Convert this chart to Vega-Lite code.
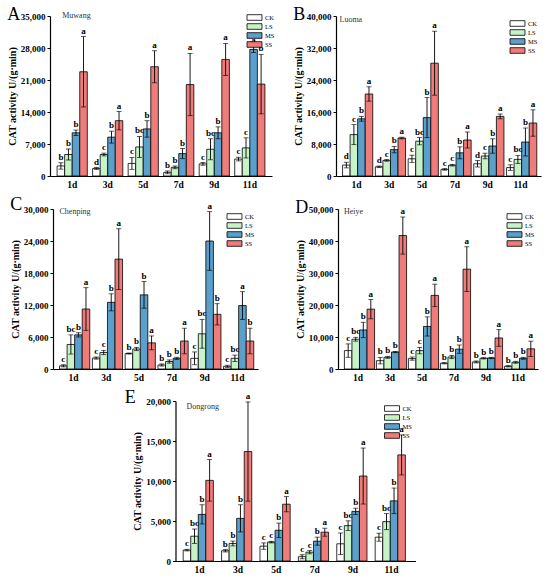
{
  "$schema": "https://vega.github.io/schema/vega-lite/v6.json",
  "padding": {"left": 7, "top": 6, "right": 2, "bottom": 2},
  "datasets": {
    "A": [
      {"d":"1d","g":"CK","v":2200,"lo":1500,"hi":2900,"l":"b"},
      {"d":"1d","g":"LS","v":4700,"lo":3500,"hi":5900,"l":"b"},
      {"d":"1d","g":"MS","v":9450,"lo":8850,"hi":10050,"l":"b"},
      {"d":"1d","g":"SS","v":22800,"lo":15100,"hi":30500,"l":"a"},
      {"d":"3d","g":"CK","v":1650,"lo":1450,"hi":1850,"l":"d"},
      {"d":"3d","g":"LS","v":4700,"lo":4400,"hi":5000,"l":"c"},
      {"d":"3d","g":"MS","v":8500,"lo":7200,"hi":9800,"l":"b"},
      {"d":"3d","g":"SS","v":12100,"lo":10100,"hi":14100,"l":"a"},
      {"d":"5d","g":"CK","v":2750,"lo":1450,"hi":4050,"l":"c"},
      {"d":"5d","g":"LS","v":6350,"lo":4050,"hi":8650,"l":"bc"},
      {"d":"5d","g":"MS","v":10300,"lo":8500,"hi":12100,"l":"b"},
      {"d":"5d","g":"SS","v":23900,"lo":20400,"hi":27400,"l":"a"},
      {"d":"7d","g":"CK","v":800,"lo":500,"hi":1100,"l":"b"},
      {"d":"7d","g":"LS","v":1900,"lo":1600,"hi":2200,"l":"b"},
      {"d":"7d","g":"MS","v":4900,"lo":3800,"hi":6000,"l":"b"},
      {"d":"7d","g":"SS","v":20000,"lo":13200,"hi":26800,"l":"a"},
      {"d":"9d","g":"CK","v":2650,"lo":2350,"hi":2950,"l":"c"},
      {"d":"9d","g":"LS","v":5850,"lo":3550,"hi":8150,"l":"bc"},
      {"d":"9d","g":"MS","v":9450,"lo":8150,"hi":10750,"l":"b"},
      {"d":"9d","g":"SS","v":25500,"lo":22000,"hi":29000,"l":"a"},
      {"d":"11d","g":"CK","v":3700,"lo":3300,"hi":4100,"l":"c"},
      {"d":"11d","g":"LS","v":6150,"lo":3950,"hi":8350,"l":"c"},
      {"d":"11d","g":"MS","v":27700,"lo":27000,"hi":28400,"l":"a"},
      {"d":"11d","g":"SS","v":20100,"lo":13600,"hi":26600,"l":"b"}
    ],
    "B": [
      {"d":"1d","g":"CK","v":2730,"lo":2030,"hi":3430,"l":"d"},
      {"d":"1d","g":"LS","v":10350,"lo":7850,"hi":12850,"l":"c"},
      {"d":"1d","g":"MS","v":14300,"lo":13700,"hi":14900,"l":"b"},
      {"d":"1d","g":"SS","v":20500,"lo":18700,"hi":22300,"l":"a"},
      {"d":"3d","g":"CK","v":2300,"lo":2100,"hi":2500,"l":"d"},
      {"d":"3d","g":"LS","v":3900,"lo":3700,"hi":4100,"l":"c"},
      {"d":"3d","g":"MS","v":6600,"lo":5800,"hi":7400,"l":"b"},
      {"d":"3d","g":"SS","v":9500,"lo":9300,"hi":9700,"l":"a"},
      {"d":"5d","g":"CK","v":4300,"lo":3400,"hi":5200,"l":"c"},
      {"d":"5d","g":"LS","v":8700,"lo":7800,"hi":9600,"l":"bc"},
      {"d":"5d","g":"MS","v":14600,"lo":9600,"hi":19600,"l":"b"},
      {"d":"5d","g":"SS","v":28200,"lo":20200,"hi":36200,"l":"a"},
      {"d":"7d","g":"CK","v":1650,"lo":1450,"hi":1850,"l":"c"},
      {"d":"7d","g":"LS","v":2700,"lo":2500,"hi":2900,"l":"c"},
      {"d":"7d","g":"MS","v":5800,"lo":4300,"hi":7300,"l":"b"},
      {"d":"7d","g":"SS","v":9000,"lo":7000,"hi":11000,"l":"a"},
      {"d":"9d","g":"CK","v":3050,"lo":2250,"hi":3850,"l":"d"},
      {"d":"9d","g":"LS","v":5000,"lo":4300,"hi":5700,"l":"c"},
      {"d":"9d","g":"MS","v":7500,"lo":5700,"hi":9300,"l":"b"},
      {"d":"9d","g":"SS","v":14900,"lo":14300,"hi":15500,"l":"a"},
      {"d":"11d","g":"CK","v":2100,"lo":1400,"hi":2800,"l":"c"},
      {"d":"11d","g":"LS","v":4150,"lo":3150,"hi":5150,"l":"bc"},
      {"d":"11d","g":"MS","v":8500,"lo":5000,"hi":12000,"l":"b"},
      {"d":"11d","g":"SS","v":13250,"lo":9950,"hi":16550,"l":"a"}
    ],
    "C": [
      {"d":"1d","g":"CK","v":600,"lo":400,"hi":800,"l":"c"},
      {"d":"1d","g":"LS","v":4600,"lo":2800,"hi":6400,"l":"bc"},
      {"d":"1d","g":"MS","v":6400,"lo":6000,"hi":6800,"l":"b"},
      {"d":"1d","g":"SS","v":11250,"lo":7250,"hi":15250,"l":"a"},
      {"d":"3d","g":"CK","v":2050,"lo":1850,"hi":2250,"l":"c"},
      {"d":"3d","g":"LS","v":3100,"lo":2700,"hi":3500,"l":"c"},
      {"d":"3d","g":"MS","v":12500,"lo":10900,"hi":14100,"l":"b"},
      {"d":"3d","g":"SS","v":20600,"lo":14900,"hi":26300,"l":"a"},
      {"d":"5d","g":"CK","v":2900,"lo":2800,"hi":3000,"l":"b"},
      {"d":"5d","g":"LS","v":3750,"lo":3450,"hi":4050,"l":"b"},
      {"d":"5d","g":"MS","v":13900,"lo":11400,"hi":16400,"l":"b"},
      {"d":"5d","g":"SS","v":4900,"lo":3600,"hi":6200,"l":"a"},
      {"d":"7d","g":"CK","v":750,"lo":550,"hi":950,"l":"b"},
      {"d":"7d","g":"LS","v":1400,"lo":1100,"hi":1700,"l":"b"},
      {"d":"7d","g":"MS","v":2000,"lo":1800,"hi":2200,"l":"b"},
      {"d":"7d","g":"SS","v":5250,"lo":2850,"hi":7650,"l":"a"},
      {"d":"9d","g":"CK","v":2000,"lo":800,"hi":3200,"l":"c"},
      {"d":"9d","g":"LS","v":6600,"lo":3900,"hi":9300,"l":"bc"},
      {"d":"9d","g":"MS","v":24000,"lo":18500,"hi":29500,"l":"a"},
      {"d":"9d","g":"SS","v":10250,"lo":8250,"hi":12250,"l":"b"},
      {"d":"11d","g":"CK","v":500,"lo":300,"hi":700,"l":"c"},
      {"d":"11d","g":"LS","v":2000,"lo":1400,"hi":2600,"l":"bc"},
      {"d":"11d","g":"MS","v":11900,"lo":9300,"hi":14500,"l":"a"},
      {"d":"11d","g":"SS","v":5250,"lo":2850,"hi":7650,"l":"b"}
    ],
    "D": [
      {"d":"1d","g":"CK","v":5750,"lo":3650,"hi":7850,"l":"c"},
      {"d":"1d","g":"LS","v":9300,"lo":8700,"hi":9900,"l":"bc"},
      {"d":"1d","g":"MS","v":12200,"lo":9800,"hi":14600,"l":"b"},
      {"d":"1d","g":"SS","v":18700,"lo":15700,"hi":21700,"l":"a"},
      {"d":"3d","g":"CK","v":2600,"lo":1600,"hi":3600,"l":"b"},
      {"d":"3d","g":"LS","v":3650,"lo":3350,"hi":3950,"l":"b"},
      {"d":"3d","g":"MS","v":5300,"lo":5100,"hi":5500,"l":"b"},
      {"d":"3d","g":"SS","v":41700,"lo":35900,"hi":47500,"l":"a"},
      {"d":"5d","g":"CK","v":3250,"lo":2750,"hi":3750,"l":"c"},
      {"d":"5d","g":"LS","v":5750,"lo":4750,"hi":6750,"l":"c"},
      {"d":"5d","g":"MS","v":13300,"lo":10300,"hi":16300,"l":"b"},
      {"d":"5d","g":"SS","v":23000,"lo":19500,"hi":26500,"l":"a"},
      {"d":"7d","g":"CK","v":1800,"lo":1600,"hi":2000,"l":"b"},
      {"d":"7d","g":"LS","v":3750,"lo":3250,"hi":4250,"l":"b"},
      {"d":"7d","g":"MS","v":6200,"lo":4900,"hi":7500,"l":"b"},
      {"d":"7d","g":"SS","v":31200,"lo":24200,"hi":38200,"l":"a"},
      {"d":"9d","g":"CK","v":2200,"lo":1900,"hi":2500,"l":"b"},
      {"d":"9d","g":"LS","v":3350,"lo":3150,"hi":3550,"l":"b"},
      {"d":"9d","g":"MS","v":3450,"lo":3250,"hi":3650,"l":"b"},
      {"d":"9d","g":"SS","v":9700,"lo":7100,"hi":12300,"l":"a"},
      {"d":"11d","g":"CK","v":850,"lo":650,"hi":1050,"l":"b"},
      {"d":"11d","g":"LS","v":2100,"lo":1800,"hi":2400,"l":"b"},
      {"d":"11d","g":"MS","v":3350,"lo":3050,"hi":3650,"l":"b"},
      {"d":"11d","g":"SS","v":6300,"lo":3900,"hi":8700,"l":"a"}
    ],
    "E": [
      {"d":"1d","g":"CK","v":1360,"lo":1260,"hi":1460,"l":"c"},
      {"d":"1d","g":"LS","v":3100,"lo":2200,"hi":4000,"l":"bc"},
      {"d":"1d","g":"MS","v":5830,"lo":4630,"hi":7030,"l":"b"},
      {"d":"1d","g":"SS","v":10080,"lo":7480,"hi":12680,"l":"a"},
      {"d":"3d","g":"CK","v":1280,"lo":1130,"hi":1430,"l":"b"},
      {"d":"3d","g":"LS","v":2190,"lo":1890,"hi":2490,"l":"b"},
      {"d":"3d","g":"MS","v":5330,"lo":3630,"hi":7030,"l":"b"},
      {"d":"3d","g":"SS","v":13680,"lo":7480,"hi":19880,"l":"a"},
      {"d":"5d","g":"CK","v":1860,"lo":1460,"hi":2260,"l":"c"},
      {"d":"5d","g":"LS","v":2360,"lo":2260,"hi":2460,"l":"c"},
      {"d":"5d","g":"MS","v":3840,"lo":2940,"hi":4740,"l":"b"},
      {"d":"5d","g":"SS","v":7100,"lo":6150,"hi":8050,"l":"a"},
      {"d":"7d","g":"CK","v":540,"lo":290,"hi":790,"l":"c"},
      {"d":"7d","g":"LS","v":1100,"lo":900,"hi":1300,"l":"c"},
      {"d":"7d","g":"MS","v":2480,"lo":1980,"hi":2980,"l":"b"},
      {"d":"7d","g":"SS","v":3600,"lo":3100,"hi":4100,"l":"a"},
      {"d":"9d","g":"CK","v":2150,"lo":800,"hi":3500,"l":"c"},
      {"d":"9d","g":"LS","v":4420,"lo":3820,"hi":5020,"l":"bc"},
      {"d":"9d","g":"MS","v":6200,"lo":5800,"hi":6600,"l":"b"},
      {"d":"9d","g":"SS","v":10620,"lo":7120,"hi":14120,"l":"a"},
      {"d":"11d","g":"CK","v":2975,"lo":2475,"hi":3475,"l":"c"},
      {"d":"11d","g":"LS","v":4920,"lo":3920,"hi":5920,"l":"bc"},
      {"d":"11d","g":"MS","v":7520,"lo":5920,"hi":9120,"l":"b"},
      {"d":"11d","g":"SS","v":13260,"lo":10760,"hi":15760,"l":"a"}
    ]
  },
  "vconcat": [
    {
      "hconcat": [
        {
          "width": 222, "height": 160,
          "title": {"text": "A", "offset": -12},
          "data": {"name": "A"},
          "layer": [
            {"mark": {"type": "bar", "stroke": "black", "strokeWidth": 0.8},
             "encoding": {
               "x": {"field": "d", "type": "nominal", "sort": ["1d","3d","5d","7d","9d","11d"], "scale": {"paddingInner": 0.15, "paddingOuter": 0.2}, "title": null},
               "xOffset": {"field": "g", "sort": ["CK","LS","MS","SS"]},
               "y": {"field": "v", "type": "quantitative", "title": "CAT activity U/(g·min)", "scale": {"domain": [0, 35000], "nice": false}, "axis": {"values": [0,7000,14000,21000,28000,35000], "tickCount": 10, "format": ",.0f", "labelOverlap": false, "labelFlush": false}},
               "fill": {"field": "g", "type": "nominal", "scale": {"domain": ["CK","LS","MS","SS"], "range": ["#ffffff","#c8f2c8","#5b9fcb","#f07c7a"]}, "legend": {"orient": "top-right", "offset": -3}}
             }},
            {"mark": {"type": "rule", "color": "black", "strokeWidth": 0.9},
             "encoding": {"x": {"field": "d", "type": "nominal", "sort": ["1d","3d","5d","7d","9d","11d"]}, "xOffset": {"field": "g", "sort": ["CK","LS","MS","SS"]}, "y": {"field": "lo", "type": "quantitative", "title": "CAT activity U/(g·min)"}, "y2": {"field": "hi"}}},
            {"mark": {"type": "tick", "color": "black", "size": 5, "thickness": 0.9},
             "encoding": {"x": {"field": "d", "type": "nominal", "sort": ["1d","3d","5d","7d","9d","11d"]}, "xOffset": {"field": "g", "sort": ["CK","LS","MS","SS"]}, "y": {"field": "hi", "type": "quantitative", "title": "CAT activity U/(g·min)"}}},
            {"mark": {"type": "tick", "color": "black", "size": 5, "thickness": 0.9},
             "encoding": {"x": {"field": "d", "type": "nominal", "sort": ["1d","3d","5d","7d","9d","11d"]}, "xOffset": {"field": "g", "sort": ["CK","LS","MS","SS"]}, "y": {"field": "lo", "type": "quantitative", "title": "CAT activity U/(g·min)"}}},
            {"mark": {"type": "text", "font": "Liberation Serif", "fontWeight": "bold", "fontSize": 9, "baseline": "bottom", "dy": -1, "color": "black"},
             "encoding": {"x": {"field": "d", "type": "nominal", "sort": ["1d","3d","5d","7d","9d","11d"]}, "xOffset": {"field": "g", "sort": ["CK","LS","MS","SS"]}, "y": {"field": "hi", "type": "quantitative", "title": "CAT activity U/(g·min)"}, "text": {"field": "l"}}},
            {"data": {"values": [{"n": "Muwang"}]},
             "mark": {"type": "text", "font": "Liberation Serif", "fontSize": 8, "align": "left", "baseline": "middle", "dx": -10, "dy": 0, "color": "#333333"},
             "encoding": {"x": {"datum": "1d"}, "y": {"datum": 35000}, "text": {"field": "n"}}}
          ]
        },
        {
          "width": 205, "height": 160,
          "title": {"text": "B", "offset": -12},
          "data": {"name": "B"},
          "layer": [
            {"mark": {"type": "bar", "stroke": "black", "strokeWidth": 0.8},
             "encoding": {
               "x": {"field": "d", "type": "nominal", "sort": ["1d","3d","5d","7d","9d","11d"], "scale": {"paddingInner": 0.15, "paddingOuter": 0.2}, "title": null},
               "xOffset": {"field": "g", "sort": ["CK","LS","MS","SS"]},
               "y": {"field": "v", "type": "quantitative", "title": "CAT activity U/(g·min)", "scale": {"domain": [0, 40000], "nice": false}, "axis": {"values": [0,8000,16000,24000,32000,40000], "tickCount": 10, "format": ",.0f", "labelOverlap": false, "labelFlush": false}},
               "fill": {"field": "g", "type": "nominal", "scale": {"domain": ["CK","LS","MS","SS"], "range": ["#ffffff","#c8f2c8","#5b9fcb","#f07c7a"]}, "legend": {"orient": "top-right"}}
             }},
            {"mark": {"type": "rule", "color": "black", "strokeWidth": 0.9},
             "encoding": {"x": {"field": "d", "type": "nominal", "sort": ["1d","3d","5d","7d","9d","11d"]}, "xOffset": {"field": "g", "sort": ["CK","LS","MS","SS"]}, "y": {"field": "lo", "type": "quantitative", "title": "CAT activity U/(g·min)"}, "y2": {"field": "hi"}}},
            {"mark": {"type": "tick", "color": "black", "size": 5, "thickness": 0.9},
             "encoding": {"x": {"field": "d", "type": "nominal", "sort": ["1d","3d","5d","7d","9d","11d"]}, "xOffset": {"field": "g", "sort": ["CK","LS","MS","SS"]}, "y": {"field": "hi", "type": "quantitative", "title": "CAT activity U/(g·min)"}}},
            {"mark": {"type": "tick", "color": "black", "size": 5, "thickness": 0.9},
             "encoding": {"x": {"field": "d", "type": "nominal", "sort": ["1d","3d","5d","7d","9d","11d"]}, "xOffset": {"field": "g", "sort": ["CK","LS","MS","SS"]}, "y": {"field": "lo", "type": "quantitative", "title": "CAT activity U/(g·min)"}}},
            {"mark": {"type": "text", "font": "Liberation Serif", "fontWeight": "bold", "fontSize": 9, "baseline": "bottom", "dy": -1, "color": "black"},
             "encoding": {"x": {"field": "d", "type": "nominal", "sort": ["1d","3d","5d","7d","9d","11d"]}, "xOffset": {"field": "g", "sort": ["CK","LS","MS","SS"]}, "y": {"field": "hi", "type": "quantitative", "title": "CAT activity U/(g·min)"}, "text": {"field": "l"}}},
            {"data": {"values": [{"n": "Luoma"}]},
             "mark": {"type": "text", "font": "Liberation Serif", "fontSize": 8, "align": "left", "baseline": "middle", "dx": -17, "dy": 4, "color": "#333333"},
             "encoding": {"x": {"datum": "1d"}, "y": {"datum": 40000}, "text": {"field": "n"}}}
          ]
        }
      ],
      "spacing": 18,
      "resolve": {"scale": {"fill": "independent"}, "legend": {"fill": "independent"}}
    },
    {
      "hconcat": [
        {
          "width": 205, "height": 160,
          "title": {"text": "C", "offset": -12},
          "data": {"name": "C"},
          "layer": [
            {"mark": {"type": "bar", "stroke": "black", "strokeWidth": 0.8},
             "encoding": {
               "x": {"field": "d", "type": "nominal", "sort": ["1d","3d","5d","7d","9d","11d"], "scale": {"paddingInner": 0.15, "paddingOuter": 0.2}, "title": null},
               "xOffset": {"field": "g", "sort": ["CK","LS","MS","SS"]},
               "y": {"field": "v", "type": "quantitative", "title": "CAT activity U/(g·min)", "scale": {"domain": [0, 30000], "nice": false}, "axis": {"values": [0,6000,12000,18000,24000,30000], "tickCount": 10, "format": ",.0f", "labelOverlap": false, "labelFlush": false}},
               "fill": {"field": "g", "type": "nominal", "scale": {"domain": ["CK","LS","MS","SS"], "range": ["#ffffff","#c8f2c8","#5b9fcb","#f07c7a"]}, "legend": {"orient": "top-right"}}
             }},
            {"mark": {"type": "rule", "color": "black", "strokeWidth": 0.9},
             "encoding": {"x": {"field": "d", "type": "nominal", "sort": ["1d","3d","5d","7d","9d","11d"]}, "xOffset": {"field": "g", "sort": ["CK","LS","MS","SS"]}, "y": {"field": "lo", "type": "quantitative", "title": "CAT activity U/(g·min)"}, "y2": {"field": "hi"}}},
            {"mark": {"type": "tick", "color": "black", "size": 5, "thickness": 0.9},
             "encoding": {"x": {"field": "d", "type": "nominal", "sort": ["1d","3d","5d","7d","9d","11d"]}, "xOffset": {"field": "g", "sort": ["CK","LS","MS","SS"]}, "y": {"field": "hi", "type": "quantitative", "title": "CAT activity U/(g·min)"}}},
            {"mark": {"type": "tick", "color": "black", "size": 5, "thickness": 0.9},
             "encoding": {"x": {"field": "d", "type": "nominal", "sort": ["1d","3d","5d","7d","9d","11d"]}, "xOffset": {"field": "g", "sort": ["CK","LS","MS","SS"]}, "y": {"field": "lo", "type": "quantitative", "title": "CAT activity U/(g·min)"}}},
            {"mark": {"type": "text", "font": "Liberation Serif", "fontWeight": "bold", "fontSize": 9, "baseline": "bottom", "dy": -1, "color": "black"},
             "encoding": {"x": {"field": "d", "type": "nominal", "sort": ["1d","3d","5d","7d","9d","11d"]}, "xOffset": {"field": "g", "sort": ["CK","LS","MS","SS"]}, "y": {"field": "hi", "type": "quantitative", "title": "CAT activity U/(g·min)"}, "text": {"field": "l"}}},
            {"data": {"values": [{"n": "Chenping"}]},
             "mark": {"type": "text", "font": "Liberation Serif", "fontSize": 8, "align": "left", "baseline": "middle", "dx": -14, "dy": 3, "color": "#333333"},
             "encoding": {"x": {"datum": "1d"}, "y": {"datum": 30000}, "text": {"field": "n"}}}
          ]
        },
        {
          "width": 200, "height": 160,
          "title": {"text": "D", "offset": -12},
          "data": {"name": "D"},
          "layer": [
            {"mark": {"type": "bar", "stroke": "black", "strokeWidth": 0.8},
             "encoding": {
               "x": {"field": "d", "type": "nominal", "sort": ["1d","3d","5d","7d","9d","11d"], "scale": {"paddingInner": 0.15, "paddingOuter": 0.2}, "title": null},
               "xOffset": {"field": "g", "sort": ["CK","LS","MS","SS"]},
               "y": {"field": "v", "type": "quantitative", "title": "CAT activity U/(g·min)", "scale": {"domain": [0, 50000], "nice": false}, "axis": {"values": [0,10000,20000,30000,40000,50000], "tickCount": 10, "format": ",.0f", "labelOverlap": false, "labelFlush": false}},
               "fill": {"field": "g", "type": "nominal", "scale": {"domain": ["CK","LS","MS","SS"], "range": ["#ffffff","#c8f2c8","#5b9fcb","#f07c7a"]}, "legend": {"orient": "top-right"}}
             }},
            {"mark": {"type": "rule", "color": "black", "strokeWidth": 0.9},
             "encoding": {"x": {"field": "d", "type": "nominal", "sort": ["1d","3d","5d","7d","9d","11d"]}, "xOffset": {"field": "g", "sort": ["CK","LS","MS","SS"]}, "y": {"field": "lo", "type": "quantitative", "title": "CAT activity U/(g·min)"}, "y2": {"field": "hi"}}},
            {"mark": {"type": "tick", "color": "black", "size": 5, "thickness": 0.9},
             "encoding": {"x": {"field": "d", "type": "nominal", "sort": ["1d","3d","5d","7d","9d","11d"]}, "xOffset": {"field": "g", "sort": ["CK","LS","MS","SS"]}, "y": {"field": "hi", "type": "quantitative", "title": "CAT activity U/(g·min)"}}},
            {"mark": {"type": "tick", "color": "black", "size": 5, "thickness": 0.9},
             "encoding": {"x": {"field": "d", "type": "nominal", "sort": ["1d","3d","5d","7d","9d","11d"]}, "xOffset": {"field": "g", "sort": ["CK","LS","MS","SS"]}, "y": {"field": "lo", "type": "quantitative", "title": "CAT activity U/(g·min)"}}},
            {"mark": {"type": "text", "font": "Liberation Serif", "fontWeight": "bold", "fontSize": 9, "baseline": "bottom", "dy": -1, "color": "black"},
             "encoding": {"x": {"field": "d", "type": "nominal", "sort": ["1d","3d","5d","7d","9d","11d"]}, "xOffset": {"field": "g", "sort": ["CK","LS","MS","SS"]}, "y": {"field": "hi", "type": "quantitative", "title": "CAT activity U/(g·min)"}, "text": {"field": "l"}}},
            {"data": {"values": [{"n": "Heiye"}]},
             "mark": {"type": "text", "font": "Liberation Serif", "fontSize": 8, "align": "left", "baseline": "middle", "dx": -14, "dy": 3, "color": "#333333"},
             "encoding": {"x": {"datum": "1d"}, "y": {"datum": 50000}, "text": {"field": "n"}}}
          ]
        }
      ],
      "spacing": 37,
      "resolve": {"scale": {"fill": "independent"}, "legend": {"fill": "independent"}}
    },
    {
      "width": 240, "height": 160,
      "title": {"text": "E", "offset": -15, "dx": -8},
      "data": {"name": "E"},
      "layer": [
        {"mark": {"type": "bar", "stroke": "black", "strokeWidth": 0.8},
         "encoding": {
           "x": {"field": "d", "type": "nominal", "sort": ["1d","3d","5d","7d","9d","11d"], "scale": {"paddingInner": 0.15, "paddingOuter": 0.2}, "title": null},
           "xOffset": {"field": "g", "sort": ["CK","LS","MS","SS"]},
           "y": {"field": "v", "type": "quantitative", "title": "CAT activity U/(g·min)", "scale": {"domain": [0, 20000], "nice": false}, "axis": {"values": [0,5000,10000,15000,20000], "tickCount": 10, "format": ",.0f", "labelOverlap": false, "labelFlush": false}},
           "fill": {"field": "g", "type": "nominal", "scale": {"domain": ["CK","LS","MS","SS"], "range": ["#ffffff","#c8f2c8","#5b9fcb","#f07c7a"]}, "legend": {"orient": "top-right"}}
         }},
        {"mark": {"type": "rule", "color": "black", "strokeWidth": 0.9},
         "encoding": {"x": {"field": "d", "type": "nominal", "sort": ["1d","3d","5d","7d","9d","11d"]}, "xOffset": {"field": "g", "sort": ["CK","LS","MS","SS"]}, "y": {"field": "lo", "type": "quantitative", "title": "CAT activity U/(g·min)"}, "y2": {"field": "hi"}}},
        {"mark": {"type": "tick", "color": "black", "size": 5, "thickness": 0.9},
         "encoding": {"x": {"field": "d", "type": "nominal", "sort": ["1d","3d","5d","7d","9d","11d"]}, "xOffset": {"field": "g", "sort": ["CK","LS","MS","SS"]}, "y": {"field": "hi", "type": "quantitative", "title": "CAT activity U/(g·min)"}}},
        {"mark": {"type": "tick", "color": "black", "size": 5, "thickness": 0.9},
         "encoding": {"x": {"field": "d", "type": "nominal", "sort": ["1d","3d","5d","7d","9d","11d"]}, "xOffset": {"field": "g", "sort": ["CK","LS","MS","SS"]}, "y": {"field": "lo", "type": "quantitative", "title": "CAT activity U/(g·min)"}}},
        {"mark": {"type": "text", "font": "Liberation Serif", "fontWeight": "bold", "fontSize": 9, "baseline": "bottom", "dy": -1, "color": "black"},
         "encoding": {"x": {"field": "d", "type": "nominal", "sort": ["1d","3d","5d","7d","9d","11d"]}, "xOffset": {"field": "g", "sort": ["CK","LS","MS","SS"]}, "y": {"field": "hi", "type": "quantitative", "title": "CAT activity U/(g·min)"}, "text": {"field": "l"}}},
        {"data": {"values": [{"n": "Dongrong"}]},
         "mark": {"type": "text", "font": "Liberation Serif", "fontSize": 8, "align": "left", "baseline": "middle", "dx": -13, "dy": 6, "color": "#333333"},
         "encoding": {"x": {"datum": "1d"}, "y": {"datum": 20000}, "text": {"field": "n"}}}
      ]
    }
  ],
  "spacing": 6,
  "center": true,
  "resolve": {"scale": {"fill": "independent"}, "legend": {"fill": "independent"}},
  "config": {
    "view": {"stroke": null},
    "font": "Liberation Serif",
    "title": {"anchor": "start", "frame": "bounds", "fontSize": 18, "font": "Liberation Serif", "fontWeight": "normal", "color": "black"},
    "axis": {"domainColor": "black", "tickColor": "black", "labelColor": "black", "titleColor": "black", "labelFont": "Liberation Serif", "titleFont": "Liberation Serif", "labelFontWeight": "bold", "titleFontWeight": "bold", "labelFontSize": 9, "titleFontSize": 10, "grid": false, "tickSize": 3, "domainWidth": 1.2, "labelOverlap": false},
    "axisX": {"ticks": false, "labelAngle": 0, "labelFontSize": 9.5, "labelPadding": 3},
    "axisY": {"titlePadding": 3, "labelPadding": 2},
    "legend": {"title": null, "offset": 3, "padding": 0, "labelFont": "Liberation Serif", "labelFontSize": 6.5, "labelColor": "black", "symbolType": "M-2,-0.75H2V0.75H-2Z", "symbolSize": 56, "symbolStrokeColor": "black", "symbolStrokeWidth": 0.8, "rowPadding": 0, "labelOffset": 6}
  }
}
